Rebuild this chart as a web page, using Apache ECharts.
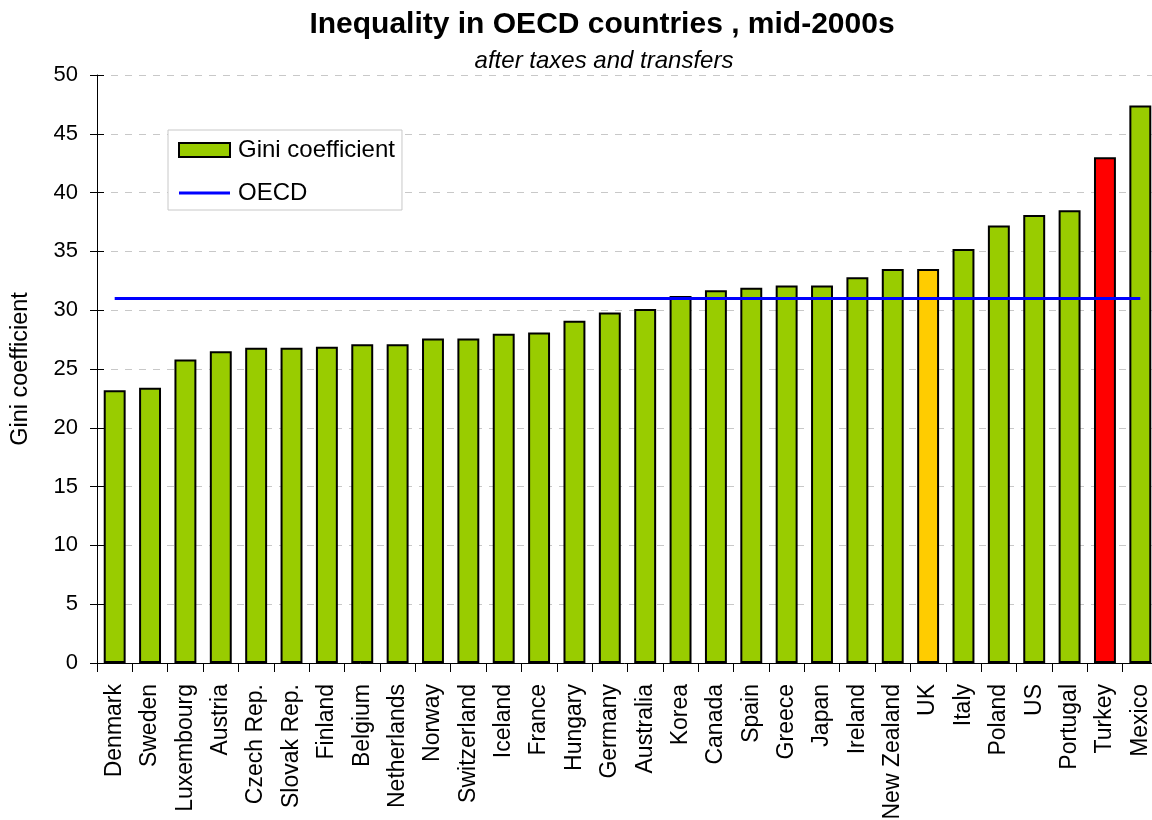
<!DOCTYPE html>
<html>
<head>
<meta charset="utf-8">
<script src="https://cdn.jsdelivr.net/npm/echarts@6/dist/echarts.min.js"></script>
<style>
html,body{margin:0;padding:0;background:#fff;}
#chart{width:1152px;height:820px;}
</style>
</head>
<body>
<div id="chart"></div>
<script>
const categories = ['Denmark','Sweden','Luxembourg','Austria','Czech Rep.','Slovak Rep.','Finland','Belgium','Netherlands','Norway','Switzerland','Iceland','France','Hungary','Germany','Australia','Korea','Canada','Spain','Greece','Japan','Ireland','New Zealand','UK','Italy','Poland','US','Portugal','Turkey','Mexico'];
const giniValues = [23.2,23.4,25.8,26.5,26.8,26.8,26.9,27.1,27.1,27.6,27.6,28.0,28.1,29.1,29.8,30.1,31.2,31.7,31.9,32.1,32.1,32.8,33.5,33.5,35.2,37.2,38.1,38.5,43.0,47.4];
const oecdAverage = 31.0;
const yTicks = {min:0, max:50, interval:5};

const FONT = 'Liberation Sans, Arial, sans-serif';
const baseColor = '#99cc00';
const highlight = {'UK':'#ffcc00','Turkey':'#ff0000'};

const barData = categories.map((c,i)=>({
  value: giniValues[i],
  itemStyle: highlight[c] ? {color: highlight[c]} : undefined
}));
const oecdData = categories.map(()=>oecdAverage);

const chart = echarts.init(document.getElementById('chart'));
chart.setOption({
  animation:false,
  backgroundColor:'#fff',
  textStyle:{fontFamily:FONT, color:'#000'},
  title:[
    {text:'Inequality in OECD countries , mid-2000s', left:597, top:5, textAlign:'center',
     textStyle:{fontSize:30, fontWeight:'bold', color:'#000', fontFamily:FONT}},
    {text:'after taxes and transfers', left:599, top:44, textAlign:'center',
     textStyle:{fontSize:24, fontStyle:'italic', fontWeight:'normal', color:'#000', fontFamily:FONT}}
  ],
  legend:{
    left:168, top:130, orient:'vertical', itemGap:19,
    itemWidth:51, itemHeight:14,
    padding:[8,7,5,10],
    backgroundColor:'#fff', borderColor:'#c8c8c8', borderWidth:1,
    textStyle:{fontSize:24, color:'#000', fontFamily:FONT, padding:[0,0,0,3]},
    data:[
      {name:'Gini coefficient', icon:'rect'},
      {name:'OECD', icon:'path://M0,0L51,0L51,3L0,3Z'}
    ]
  },
  grid:{left:97, top:75, width:1061, bottom:157, containLabel:false, outerBoundsMode:'none'},
  xAxis:{
    type:'category', data:categories,
    axisLine:{lineStyle:{color:'#000', width:1}},
    axisTick:{show:true, length:9, lineStyle:{color:'#000'}},
    axisLabel:{rotate:90, interval:0, fontSize:23, color:'#000', margin:21, fontFamily:FONT}
  },
  yAxis:[
    {
      type:'value', min:yTicks.min, max:yTicks.max, interval:yTicks.interval,
      name:'Gini coefficient', nameLocation:'middle', nameRotate:90, nameGap:64,
      nameTextStyle:{fontSize:23.5, color:'#000', fontFamily:FONT},
      axisLine:{show:true, lineStyle:{color:'#000', width:1}},
      axisTick:{show:true, length:7, lineStyle:{color:'#000'}},
      axisLabel:{fontSize:22, color:'#000', margin:19, fontFamily:FONT},
      splitLine:{show:true, lineStyle:{color:'#c8c8c8', type:[7,7], width:1}}
    },
    {
      type:'value', position:'left', min:yTicks.min, max:yTicks.max, interval:yTicks.interval,
      axisLine:{show:false},
      axisTick:{show:true, inside:true, length:7, lineStyle:{color:'#000'}},
      axisLabel:{show:false},
      splitLine:{show:false}
    }
  ],
  series:[
    {name:'Gini coefficient', type:'bar', data:barData, barWidth:'62%',
     itemStyle:{color:baseColor, borderColor:'#000', borderWidth:2}},
    {name:'OECD', type:'line', data:oecdData, symbol:'none', showSymbol:false,
     lineStyle:{color:'#0000ff', width:3}, itemStyle:{color:'#0000ff'}, z:5}
  ]
});
</script>
</body>
</html>
